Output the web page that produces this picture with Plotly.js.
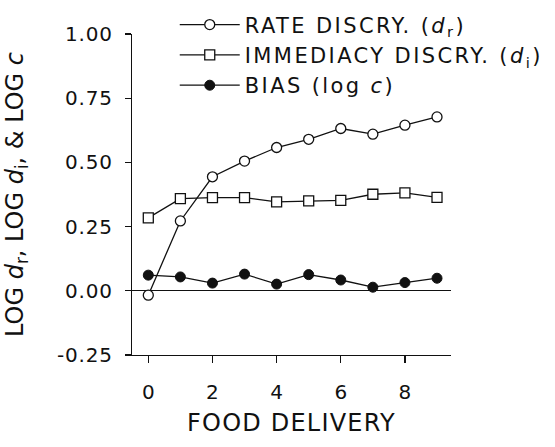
<!DOCTYPE html>
<html>
<head>
<meta charset="utf-8">
<script src="https://cdn.plot.ly/plotly-3.0.1.min.js"></script>
<style>
html,body{margin:0;padding:0;background:#fff;}
#chart{width:555px;height:447px;}
text.legendtext{letter-spacing:2.4px;}
.g-xtitle text{letter-spacing:1.2px;}
.ytick text{letter-spacing:0.8px;}
</style>
</head>
<body>
<div id="chart"></div>
<script>
const foodDelivery = [0, 1, 2, 3, 4, 5, 6, 7, 8, 9];
const rateDiscry = [-0.017, 0.272, 0.444, 0.505, 0.558, 0.590, 0.632, 0.610, 0.645, 0.677];
const immediacyDiscry = [0.284, 0.359, 0.363, 0.363, 0.346, 0.350, 0.352, 0.376, 0.381, 0.364];
const biasLogC = [0.061, 0.054, 0.030, 0.065, 0.026, 0.063, 0.042, 0.014, 0.032, 0.049];
const xTickVals = [0, 2, 4, 6, 8];
const yTickVals = [-0.25, 0, 0.25, 0.5, 0.75, 1.0];
const yTickText = ['-0.25', '0.00', '0.25', '0.50', '0.75', '1.00'];

const ink = '#111';
const FONT = 'DejaVu Sans, Arial, sans-serif';

const traces = [
  {x: foodDelivery, y: rateDiscry, name: 'RATE DISCRY. (<i>d</i><sub>r</sub>)', mode: 'lines+markers',
   line: {color: ink, width: 1.3}, marker: {symbol: 'circle', size: 10, color: '#fff', line: {color: ink, width: 1.3}}},
  {x: foodDelivery, y: immediacyDiscry, name: 'IMMEDIACY DISCRY. (<i>d</i><sub>i</sub>)', mode: 'lines+markers',
   line: {color: ink, width: 1.3}, marker: {symbol: 'square', size: 10, color: '#fff', line: {color: ink, width: 1.3}}},
  {x: foodDelivery, y: biasLogC, name: 'BIAS (log <i>c</i>)', mode: 'lines+markers',
   line: {color: ink, width: 1.3}, marker: {symbol: 'circle', size: 10, color: ink, line: {color: ink, width: 1}}}
];

const layout = {
  width: 555, height: 447,
  margin: {l: 132, r: 104, t: 34, b: 92, autoexpand: false},
  paper_bgcolor: '#fff', plot_bgcolor: '#fff',
  font: {family: FONT, color: ink, size: 20},
  showlegend: true,
  legend: {x: 0.134, y: 1.092, xanchor: 'left', yanchor: 'top', bgcolor: 'rgba(0,0,0,0)',
           font: {family: FONT, size: 21, color: ink}, itemwidth: 60, tracegroupgap: 0},
  xaxis: {
    range: [-0.508, 9.436], showgrid: false, zeroline: false,
    showline: true, linecolor: ink, linewidth: 1.3,
    ticks: 'outside', ticklen: 7, tickwidth: 1.3, tickcolor: ink,
    tickvals: xTickVals, tickfont: {family: FONT, size: 20, color: ink},
    ticklabelstandoff: 12,
    title: {text: 'FOOD DELIVERY', font: {family: FONT, size: 24, color: ink}, standoff: 11}
  },
  yaxis: {
    range: [-0.25, 1.0], showgrid: false,
    zeroline: true, zerolinecolor: ink, zerolinewidth: 1.3,
    showline: true, linecolor: ink, linewidth: 1.3,
    ticks: 'outside', ticklen: 6, tickwidth: 1.3, tickcolor: ink,
    tickvals: yTickVals, ticktext: yTickText, tickfont: {family: FONT, size: 20, color: ink},
    ticklabelstandoff: 8,
    title: {text: 'LOG <i>d</i><sub>r</sub>, LOG <i>d</i><sub>i</sub>, & LOG <i>c</i>', font: {family: FONT, size: 24, color: ink}, standoff: 26}
  }
};

Plotly.newPlot('chart', traces, layout, {displayModeBar: false, staticPlot: true});
</script>
</body>
</html>
